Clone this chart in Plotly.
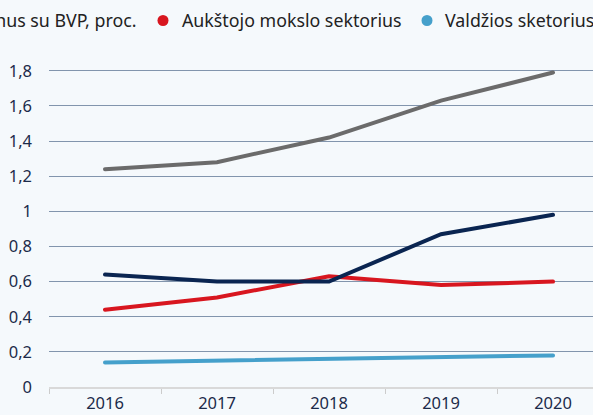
import plotly.graph_objects as go

years = ["2016", "2017", "2018", "2019", "2020"]
total_gdp = [1.24, 1.28, 1.42, 1.63, 1.79]
higher_edu = [0.44, 0.51, 0.63, 0.58, 0.60]
government = [0.14, 0.15, 0.16, 0.17, 0.18]
business = [0.64, 0.60, 0.60, 0.87, 0.98]

series_names = [
    "Bendrosios išlaidos MTEP, palyginus su BVP, proc.",
    "Aukštojo mokslo sektorius",
    "Valdžios sketorius",
    "Verslo sektorius",
]
series_values = [total_gdp, higher_edu, government, business]
colors = ["#6b6b6b", "#d8161f", "#45a0cb", "#0a2551"]

y_ticks = [0, 0.2, 0.4, 0.6, 0.8, 1.0, 1.2, 1.4, 1.6, 1.8]
y_tick_labels = ["0", "0,2", "0,4", "0,6", "0,8", "1", "1,2", "1,4", "1,6", "1,8"]

W, H = 593, 415
ML, MR, MT, MB = 49, 0, 62, 28
PW, PH = W - ML - MR, H - MT - MB

FONT = "Noto Sans, sans-serif"
BG = "#f5f9fc"

fig = go.Figure()
for name, vals, col in zip(series_names, series_values, colors):
    fig.add_trace(go.Scatter(
        x=years, y=vals, mode="lines", name=name,
        line=dict(color=col, width=4), showlegend=False,
    ))

def px_to_paper_x(px):
    return (px - ML) / PW

def px_to_paper_y(py):
    return (H - MB - py) / PH

legend_y = 20.5
annotations = []
shapes = []
# legend item: (text anchor x px, anchor side, dot x px, series index)
legend_layout = [
    (138, "right", None, 0),
    (180, "left", 163, 1),
    (443, "left", 427, 2),
    (650, "left", 634, 3),
]
for tx, side, dx, idx in legend_layout:
    annotations.append(dict(
        x=px_to_paper_x(tx), y=px_to_paper_y(legend_y), xref="paper", yref="paper",
        text=series_names[idx], showarrow=False, xanchor=side, yanchor="middle",
        font=dict(family=FONT, size=17.8, color="#222222"),
    ))
    if dx is not None:
        shapes.append(dict(
            type="circle", xref="paper", yref="paper",
            xsizemode="pixel", ysizemode="pixel",
            xanchor=px_to_paper_x(dx), yanchor=px_to_paper_y(legend_y),
            x0=-5.5, x1=5.5, y0=-5.5, y1=5.5,
            fillcolor=colors[idx], line=dict(width=0),
        ))

fig.update_layout(
    width=W, height=H,
    margin=dict(l=ML, r=MR, t=MT, b=MB, pad=0),
    paper_bgcolor=BG, plot_bgcolor=BG,
    font=dict(family=FONT, size=16.5, color="#1c2b4a"),
    annotations=annotations, shapes=shapes,
    showlegend=False,
)
fig.update_xaxes(
    type="category", range=[-0.5, 4.357],
    tickson="boundaries", ticks="outside", ticklen=5, tickwidth=1, tickcolor="#cccccc",
    showline=True, linecolor="#d9d9d9", linewidth=2,
    showgrid=False, zeroline=False,
    tickfont=dict(family=FONT, size=16.5, color="#1c2b4a"),
)
fig.update_yaxes(
    range=[0, 1.85], tickvals=y_ticks, ticktext=y_tick_labels,
    showgrid=True, gridcolor="#8295ad", gridwidth=1,
    zeroline=False, showline=False, ticks="",
    ticklabelstandoff=16,
    tickfont=dict(family=FONT, size=16.5, color="#1c2b4a"),
)

post = (
    "document.body.style.margin='0';"
    "document.body.style.padding='0';"
    "document.body.style.overflow='hidden';"
    "document.body.style.background='" + BG + "';"
    "document.querySelectorAll('.scatterlayer .js-line').forEach(function(p){"
    "p.style.strokeLinecap='round';});"
)
fig.write_html("out.html", post_script=post,
               config={"displayModeBar": False, "staticPlot": True})
